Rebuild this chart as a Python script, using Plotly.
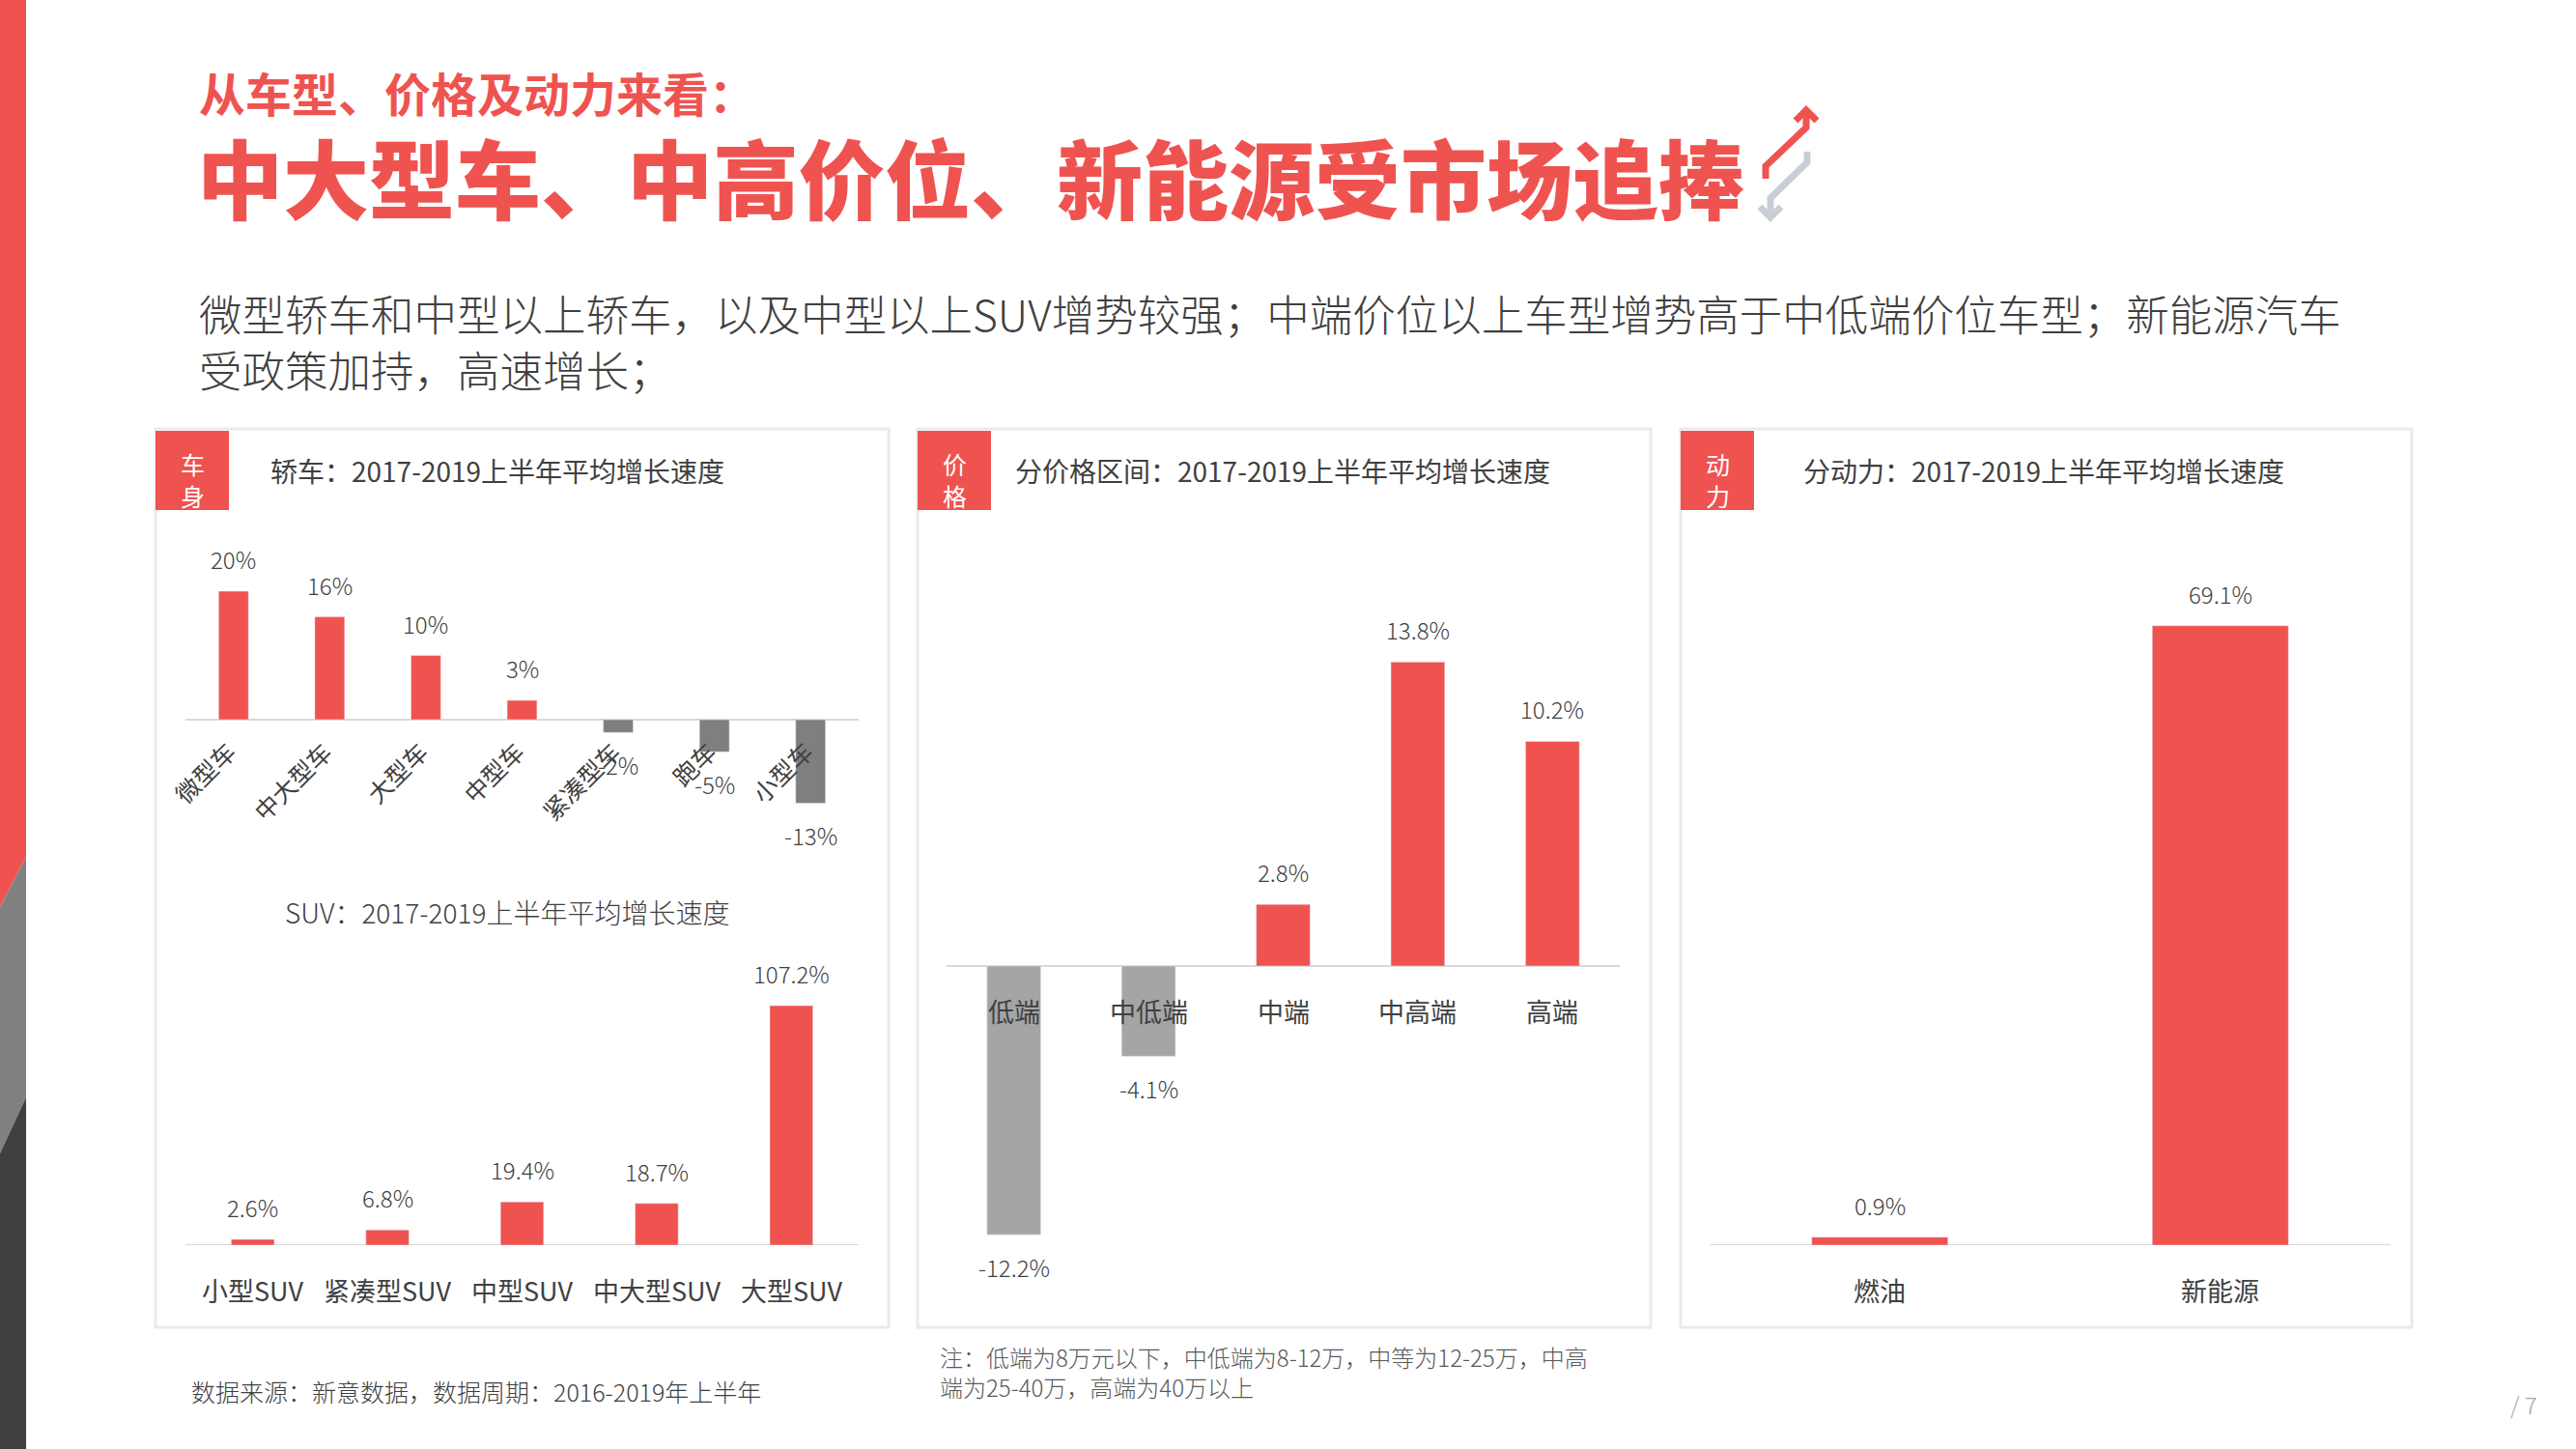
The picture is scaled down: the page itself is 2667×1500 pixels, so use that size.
import plotly.graph_objects as go

W, H = 2667, 1500
RED = "#EF5350"
DARK = "#404040"
FONT = "Noto Sans CJK SC"

# 数据
sedan_cats = ["微型车", "中大型车", "大型车", "中型车", "紧凑型车", "跑车", "小型车"]
sedan_vals = [20, 16, 10, 3, -2, -5, -13]

suv_cats = ["小型SUV", "紧凑型SUV", "中型SUV", "中大型SUV", "大型SUV"]
suv_vals = [2.6, 6.8, 19.4, 18.7, 107.2]

price_cats = ["低端", "中低端", "中端", "中高端", "高端"]
price_vals = [-12.2, -4.1, 2.8, 13.8, 10.2]

power_cats = ["燃油", "新能源"]
power_vals = [0.9, 69.1]


def fx(px):
    return px / W


def fy(py):
    return 1 - py / H


fig = go.Figure()
annots = []
shapes = []

# 左侧色条
bar_parts = [
    ([(0, 0), (27, 0), (27, 887), (0, 939)], RED),
    ([(0, 939), (27, 887), (27, 1136), (0, 1194)], "#808080"),
    ([(0, 1194), (27, 1136), (27, 1500), (0, 1500)], "#404040"),
]
for pts, col in bar_parts:
    path = "M " + " L ".join(f"{fx(x):.5f},{fy(y):.5f}" for x, y in pts) + " Z"
    shapes.append(dict(type="path", xref="paper", yref="paper", path=path,
                       fillcolor=col, line=dict(width=0), layer="below"))

# 标题旁的箭头
arrows = [
    ([(1828, 185), (1828, 172), (1870, 132), (1870, 114)], [(1859, 125), (1870, 114), (1881, 125)], RED),
    ([(1871, 157), (1871, 168), (1833, 205), (1833, 225)], [(1822, 214), (1833, 225), (1844, 214)], "#C9CED6"),
]
for body, head, col in arrows:
    for pts in (body, head):
        path = "M " + " L ".join(f"{fx(x):.5f},{fy(y):.5f}" for x, y in pts)
        shapes.append(dict(type="path", xref="paper", yref="paper", path=path,
                           line=dict(color=col, width=7)))

# 面板
panels = [(161, "车身", "轿车：2017-2019上半年平均增长速度", 278, 920),
          (950, "价格", "分价格区间：2017-2019上半年平均增长速度", 1049, 1709),
          (1740, "动力", "分动力：2017-2019上半年平均增长速度", 1865, 2497)]
for x0, tag, title, tx, x1 in panels:
    shapes.append(dict(type="rect", xref="paper", yref="paper",
                       x0=fx(x0), x1=fx(x1), y0=fy(1374), y1=fy(444),
                       line=dict(color="#EAEAEA", width=3), fillcolor="rgba(0,0,0,0)", layer="below"))
    shapes.append(dict(type="rect", xref="paper", yref="paper",
                       x0=fx(x0), x1=fx(x0 + 76), y0=fy(528), y1=fy(446),
                       line=dict(width=0), fillcolor=RED))
    annots.append(dict(x=fx(x0 + 38), y=fy(496), xref="paper", yref="paper",
                       text="<br>".join(tag), showarrow=False, xanchor="center", yanchor="middle",
                       font=dict(family=FONT, size=25, color="white")))
    annots.append(dict(x=fx(tx), y=fy(487), xref="paper", yref="paper", text=title,
                       showarrow=False, xanchor="left", yanchor="middle",
                       font=dict(family=FONT, size=28, color=DARK)))

# 四个柱状图
charts = [
    dict(s="", x0=192, x1=889, zero=745, ppu=6.65, lo=-16, hi=24, cats=sedan_cats,
         vals=sedan_vals, neg="#7F7F7F", width=0.31, fmt="{:.0f}%", rot=True),
    dict(s="2", x0=192, x1=889, zero=1289, ppu=2.313, lo=0, hi=115, cats=suv_cats,
         vals=suv_vals, neg="#7F7F7F", width=0.32, fmt="{:.1f}%", rot=False),
    dict(s="3", x0=980, x1=1677, zero=1000, ppu=22.8, lo=-14, hi=16, cats=price_cats,
         vals=price_vals, neg="#A5A5A5", width=0.4, fmt="{:.1f}%", rot=False),
    dict(s="4", x0=1770, x1=2475, zero=1289, ppu=9.28, lo=0, hi=75, cats=power_cats,
         vals=power_vals, neg="#A5A5A5", width=0.4, fmt="{:.1f}%", rot=False),
]
layout_axes = {}
for c in charts:
    s = c["s"]
    fig.add_trace(go.Bar(
        x=c["cats"], y=c["vals"], width=c["width"],
        marker_color=[RED if v > 0 else c["neg"] for v in c["vals"]],
        xaxis="x" + s, yaxis="y" + s, showlegend=False, hoverinfo="skip",
    ))
    ydom = [fy(c["zero"] - c["lo"] * c["ppu"]), fy(c["zero"] - c["hi"] * c["ppu"])]
    layout_axes["xaxis" + s] = dict(domain=[fx(c["x0"]), fx(c["x1"])], anchor="y" + s,
                                    type="category", range=[-0.5, len(c["cats"]) - 0.5],
                                    visible=False)
    layout_axes["yaxis" + s] = dict(domain=ydom, anchor="x" + s, range=[c["lo"], c["hi"]],
                                    visible=False)
    shapes.append(dict(type="line", xref=f"x{s} domain", yref="y" + s, x0=0, x1=1, y0=0, y1=0,
                       line=dict(color="#D9D9D9", width=2), layer="below"))
    for cat, v in zip(c["cats"], c["vals"]):
        annots.append(dict(x=cat, y=v, xref="x" + s, yref="y" + s, text=c["fmt"].format(v),
                           showarrow=False, yanchor="bottom" if v > 0 else "top",
                           yshift=14 if v > 0 else -14,
                           font=dict(family=FONT, size=24, color=DARK, weight=300)))
        if c["rot"]:
            annots.append(dict(x=cat, y=0, xref="x" + s, yref="y" + s, text=cat,
                               showarrow=False, textangle=-45, xanchor="right", yanchor="top",
                               xshift=12, yshift=-12,
                               font=dict(family=FONT, size=25, color=DARK)))
        else:
            annots.append(dict(x=cat, y=0, xref="x" + s, yref="y" + s, text=cat,
                               showarrow=False, yanchor="middle", yshift=-46,
                               font=dict(family=FONT, size=27, color=DARK)))

# 文字
texts = [
    ("从车型、价格及动力来看：", 204, 95, 48, RED, "bold", "left"),
    ("中大型车、中高价位、新能源受市场追捧", 202, 181, 89, RED, 900, "left"),
    ("微型轿车和中型以上轿车，以及中型以上SUV增势较强；中端价位以上车型增势高于中低端价位车型；新能源汽车"
     "<br>受政策加持，高速增长；", 204, 352, 44.5, DARK, 300, "left"),
    ("SUV：2017-2019上半年平均增长速度", 525, 944, 28, DARK, 300, "center"),
    ("数据来源：新意数据，数据周期：2016-2019年上半年", 196, 1440, 25, DARK, 300, "left"),
    ("注：低端为8万元以下，中低端为8-12万，中等为12-25万，中高<br>端为25-40万，高端为40万以上",
     971, 1420, 24, "#595959", 300, "left"),
    ("/ 7", 2613, 1453, 24, "#A6A6A6", 300, "center"),
]
for t, x, y, size, col, wt, anchor in texts:
    annots.append(dict(x=fx(x), y=fy(y), xref="paper", yref="paper",
                       text=t, showarrow=False, align="left",
                       xanchor=anchor, yanchor="middle",
                       font=dict(family=FONT, size=size, color=col, weight=wt)))

fig.update_layout(
    width=W, height=H,
    margin=dict(l=0, r=0, t=0, b=0),
    paper_bgcolor="white", plot_bgcolor="rgba(0,0,0,0)",
    annotations=annots, shapes=shapes,
    font=dict(family=FONT),
    **layout_axes,
)

# 去掉页面默认边距，让图正好铺满窗口
fig.write_html("out.html", config={"displayModeBar": False},
               post_script="document.body.style.margin='0';")
